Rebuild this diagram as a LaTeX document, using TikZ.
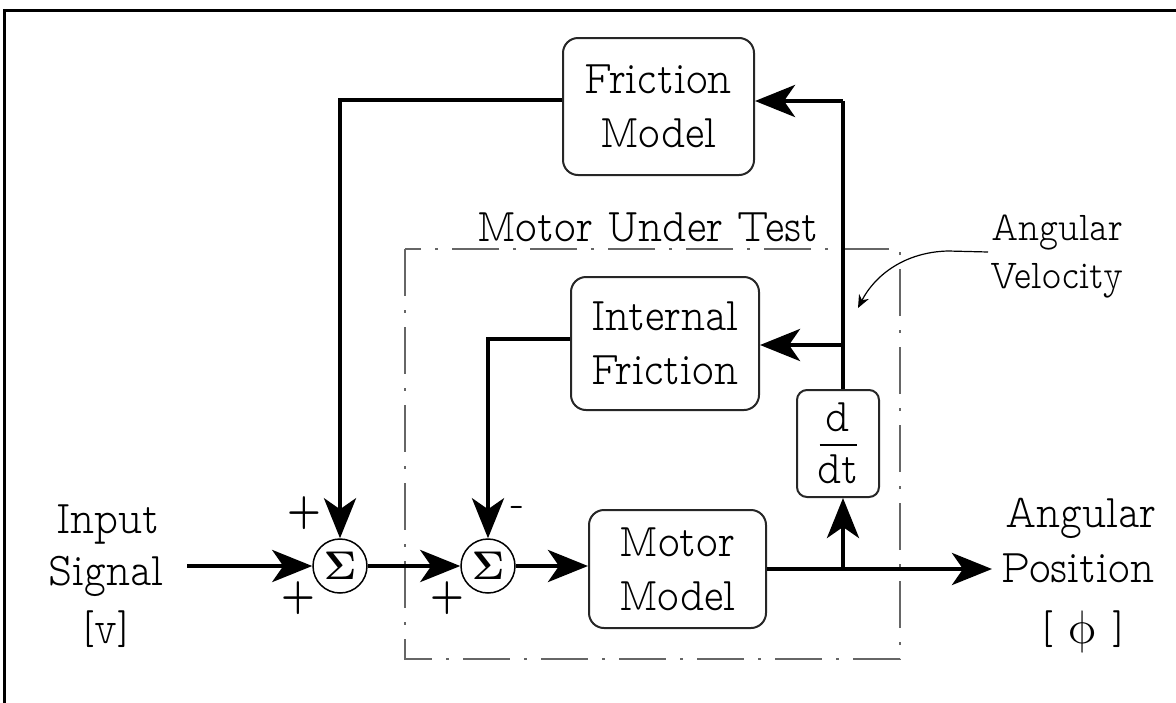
\RequirePackage{fix-cm}
\documentclass[tikz,border=0pt]{standalone}
\usepackage[no-math]{fontspec}
\usetikzlibrary{arrows.meta}
\newfontfamily\phifont{latinmodern-math.otf}
\newfontfamily\labfont{lmmonoproplt10-regular.otf}[FakeStretch=0.88]
\begin{document}
\begin{tikzpicture}[x=1pt,y=-1pt,
  font=\labfont\fontsize{47}{54}\selectfont,
  blk/.style={draw=black!85, line width=2pt, rounded corners=15pt, align=center, inner sep=0pt},
  sumnode/.style={draw, circle, line width=1.5pt, minimum size=54pt, inner sep=0pt,
    font=\fontsize{40}{40}\selectfont},
  wire/.style={line width=4.5pt},
  sig/.style={wire, -{Stealth[length=40pt,width=32pt,inset=11pt]}},
  txt/.style={anchor=base, inner sep=0pt},
  sgn/.style={inner sep=0pt},
]
\useasboundingbox (0,0) rectangle (1176,702);

% outer frame
\draw[line width=3pt] (4,710) -- (4,10) -- (1180,10);

% boundary of the motor under test
\draw[black!60, line width=1.5pt, dash pattern=on 47pt off 14pt on 3pt off 14pt]
  (405,249) rectangle (900,659);
\node[txt] (mut) at (648,241) {Motor Under Test};

% blocks
\node[blk, minimum width=191pt, minimum height=137pt] (fric) at (658.5,106.5) {Friction\\Model};
\node[blk, minimum width=188pt, minimum height=133pt] (intf) at (665,343.5) {Internal\\Friction};
\node[blk, minimum width=177pt, minimum height=118pt] (motor) at (677.5,569) {Motor\\Model};
\node[blk, minimum width=82pt, minimum height=107pt, rounded corners=10pt] (ddt) at (838,443.5)
  {\vbox{\hbox to 37pt{\hss d\hss}\kern12pt\hrule height 1.6pt\kern9pt\hbox to 37pt{\hss dt\hss}}};

% summing junctions
\node[sumnode] (s1) at (340,566) {$\mathbf{\Sigma}$};
\node[sumnode] (s2) at (488,566) {$\mathbf{\Sigma}$};
\node[sgn] (p1) at (304,513) {+};
\node[sgn] (p2) at (298,598) {+};
\node[sgn] (p3) at (447,598) {+};
\node[sgn] (m1) at (518,512) {-};

% input and output labels
\node[txt] (in1) at (108,533) {Input};
\node[txt] (in2) at (106,585) {Signal};
\node[txt] (in3) at (106,643) {[v]};
\node[txt] (op1) at (1081,527) {Angular};
\node[txt] (op2) at (1078,582) {Position};
\node[txt] (op3) at (1083,643) {[ {\phifont ϕ} ]};
\node[txt, font=\labfont\fontsize{41}{48}\selectfont] (av1) at (1057,240) {Angular};
\node[txt, font=\labfont\fontsize{41}{48}\selectfont] (av2) at (1057,288) {Velocity};

% junction points of the signal paths
\coordinate (inS) at (187,566);
\coordinate (br) at (843,569);
\coordinate (outE) at (992,569);
\coordinate (topR) at (843,101);
\coordinate (midR) at (843,345);
\coordinate (topL) at (340,100);
\coordinate (leftL) at (488,339);
\coordinate (velS) at (988,252);
\coordinate (velT) at (858,308);

% forward path
\draw[sig] (inS) -- (s1.west);
\draw[sig] (s1.east) -- (s2.west);
\draw[sig] (s2.east) -- (s2.east -| motor.west);
\draw[wire] (motor.east) -- (br);
\draw[sig] (br) -- (outE);
\draw[sig] (br) -- (br |- ddt.south);

% velocity feedback
\draw[wire] (br |- ddt.north) -- (topR);
\draw[sig] (topR) -- (topR -| fric.east);
\draw[sig] (midR) -- (midR -| intf.east);
\draw[sig] (fric.west |- topL) -- (topL) -- (s1.north);
\draw[sig] (intf.west |- leftL) -- (leftL) -- (s2.north);

% annotation pointer
\draw[line width=1.2pt, -{Stealth[length=13pt,width=11pt]}]
  (velS) -- (948,251) .. controls (905,252) and (875,275) .. (velT);
\end{tikzpicture}
\end{document}
